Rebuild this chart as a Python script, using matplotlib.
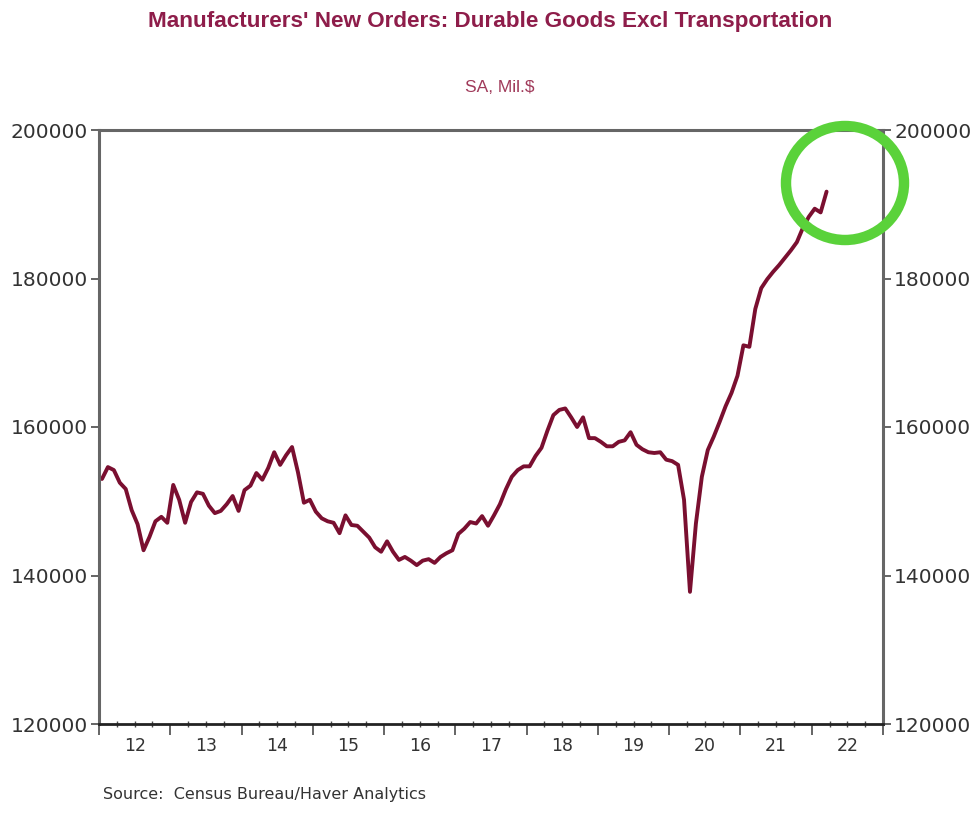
import matplotlib
matplotlib.use("Agg")
import matplotlib.pyplot as plt
from matplotlib.patches import Ellipse
import numpy as np
import pandas as pd

#------Dados (SA, Mil.$), mensal de jan/2012 a mar/2022------#
inicio = "2012-01"
valores = [
    153000, 154600, 154200, 152500, 151650, 148800, 146900, 143400, 145200, 147300, 147900, 147100,  # 2012
    152200, 150200, 147100, 149900, 151200, 151000, 149400, 148400, 148700, 149600, 150700, 148700,  # 2013
    151500, 152100, 153800, 152900, 154500, 156600, 154900, 156200, 157300, 153900, 149800, 150200,  # 2014
    148600, 147700, 147300, 147100, 145700, 148100, 146800, 146700, 145900, 145100, 143800, 143200,  # 2015
    144600, 143200, 142100, 142500, 142000, 141400, 142000, 142200, 141700, 142500, 143000, 143400,  # 2016
    145600, 146300, 147200, 147000, 148000, 146700, 148100, 149600, 151600, 153300, 154200, 154700,  # 2017
    154700, 156100, 157200, 159500, 161600, 162300, 162500, 161300, 160000, 161300, 158500, 158500,  # 2018
    158000, 157400, 157400, 158000, 158200, 159300, 157600, 157000, 156600, 156500, 156600, 155600,  # 2019
    155400, 154900, 150200, 137800, 147000, 153300, 156900, 158700, 160700, 162800, 164600, 166900,  # 2020
    171000, 170800, 175900, 178700, 179900, 180900, 181800, 182800, 183800, 184900, 186800, 188300,  # 2021
    189400, 188900, 191700,  # 2022
]
anos_rotulos = ["12", "13", "14", "15", "16", "17", "18", "19", "20", "21", "22"]
y_ticks = [120000, 140000, 160000, 180000, 200000]

titulo = "Manufacturers' New Orders: Durable Goods Excl Transportation"
subtitulo = "SA, Mil.$"
fonte = "Source:  Census Bureau/Haver Analytics"

cor_linha = "#7a0f30"
cor_titulo = "#8e1d4a"
cor_eixo = "#4a4a4a"
cor_texto = "#333333"

#------Posições no tempo (meio do mês, em anos decimais)------#
datas = pd.date_range(inicio, periods=len(valores), freq="MS")
x = datas.year + (datas.month - 0.5) / 12

fig = plt.figure(figsize=(9.76, 8.33), dpi=100)
ax = fig.add_axes([99 / 976, 1 - 724 / 833, (883 - 99) / 976, (724 - 130) / 833])

ax.plot(x, valores, color=cor_linha, lw=2.8, solid_capstyle="round", solid_joinstyle="round")

ax.set_xlim(2012, 2023)
ax.set_ylim(120000, 200000)

# Eixo y nos dois lados
ax.set_yticks(y_ticks)
ax.set_yticklabels([str(v) for v in y_ticks])
ax.tick_params(axis="y", which="major", left=True, right=True, labelleft=True, labelright=True,
               direction="out", length=6, width=1.2, color=cor_eixo, labelsize=14.5,
               labelcolor=cor_texto, pad=2)

# Eixo x: traço grande no início do ano, pequeno nos trimestres
anos = np.arange(2012, 2024)
ax.set_xticks(anos)
ax.set_xticklabels([])
ax.set_xticks(np.arange(2012, 2023.01, 0.25), minor=True)
ax.tick_params(axis="x", which="major", direction="out", length=8, width=1.2, color=cor_eixo)
ax.tick_params(axis="x", which="minor", direction="inout", length=4, width=1.0, color=cor_eixo)
for ano, rot in zip(anos[:-1], anos_rotulos):
    ax.text(ano + 0.5, -0.022, rot, transform=ax.get_xaxis_transform(), ha="center", va="top",
            fontsize=12.5, color=cor_texto)

for lado in ["left", "right", "top"]:
    ax.spines[lado].set_color("#666666")
    ax.spines[lado].set_linewidth(2.2)
ax.spines["bottom"].set_color("#222222")
ax.spines["bottom"].set_linewidth(2.0)

# Títulos
fig.text(490 / 976, 1 - 22 / 833, titulo, ha="center", va="center", fontsize=16.2,
         fontweight="bold", color=cor_titulo, family=["Liberation Sans", "DejaVu Sans"])
fig.text(500 / 976, 1 - 87 / 833, subtitulo, ha="center", va="center", fontsize=12.5,
         color="#a03a5a", family=["Liberation Sans", "DejaVu Sans"])
fig.text(103 / 976, 1 - 795 / 833, fonte, ha="left", va="center", fontsize=11.5, color=cor_texto)

# Destaque em verde
circulo = Ellipse((845 / 976, 1 - 183 / 833), 118 / 976, 114 / 833, angle=0,
                  transform=fig.transFigure, fill=False, edgecolor="#5ad23a", lw=7.5)
fig.add_artist(circulo)

fig.savefig("out.png", dpi=100, facecolor="white")
